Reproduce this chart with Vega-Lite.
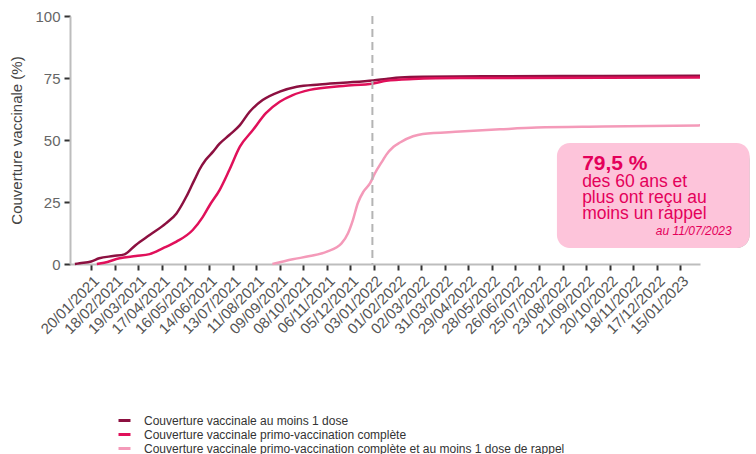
{
  "$schema": "https://vega.github.io/schema/vega-lite/v6.json",
  "width": 630,
  "height": 248,
  "autosize": {"type": "none"},
  "padding": {"left": 70, "top": 16, "right": 56, "bottom": 190},
  "background": "white",
  "config": {
    "font": "Liberation Sans",
    "view": {"stroke": null},
    "axisX": {"labelOverlap": false, "labelFlush": false, "labelBound": false, "labelAngle": -45, "labelFontSize": 15, "labelColor": "#555555", "labelPadding": 3, "tickSize": 6, "tickWidth": 2, "tickColor": "#333333", "domainColor": "#bdbdbd", "domainWidth": 2, "grid": false, "tickCount": 40, "labelExpr": "utcFormat(datum.value, '%d/%m/%Y')"},
    "axisY": {"labelFontSize": 15, "labelColor": "#666666", "labelPadding": 4, "tickSize": 6, "tickWidth": 2, "tickColor": "#333333", "domainColor": "#bdbdbd", "domainWidth": 2, "grid": false, "titleFontSize": 15, "titleFontWeight": "normal", "titleColor": "#444444", "titlePadding": 10}
  },
  "datasets": {
    "cv": [
      {"date": "2020-12-31", "serie": "Couverture vaccinale au moins 1 dose", "value": 0},
      {"date": "2021-01-06", "serie": "Couverture vaccinale au moins 1 dose", "value": 0.3},
      {"date": "2021-01-20", "serie": "Couverture vaccinale au moins 1 dose", "value": 1.0},
      {"date": "2021-01-30", "serie": "Couverture vaccinale au moins 1 dose", "value": 2.3},
      {"date": "2021-02-16", "serie": "Couverture vaccinale au moins 1 dose", "value": 3.2},
      {"date": "2021-03-02", "serie": "Couverture vaccinale au moins 1 dose", "value": 3.9},
      {"date": "2021-03-16", "serie": "Couverture vaccinale au moins 1 dose", "value": 7.7},
      {"date": "2021-04-02", "serie": "Couverture vaccinale au moins 1 dose", "value": 11.7},
      {"date": "2021-04-22", "serie": "Couverture vaccinale au moins 1 dose", "value": 16.4},
      {"date": "2021-05-05", "serie": "Couverture vaccinale au moins 1 dose", "value": 20.4},
      {"date": "2021-05-17", "serie": "Couverture vaccinale au moins 1 dose", "value": 27.1},
      {"date": "2021-05-25", "serie": "Couverture vaccinale au moins 1 dose", "value": 32.5},
      {"date": "2021-05-29", "serie": "Couverture vaccinale au moins 1 dose", "value": 35.2},
      {"date": "2021-06-02", "serie": "Couverture vaccinale au moins 1 dose", "value": 37.9},
      {"date": "2021-06-10", "serie": "Couverture vaccinale au moins 1 dose", "value": 42.0},
      {"date": "2021-06-19", "serie": "Couverture vaccinale au moins 1 dose", "value": 45.3},
      {"date": "2021-06-27", "serie": "Couverture vaccinale au moins 1 dose", "value": 48.5},
      {"date": "2021-07-09", "serie": "Couverture vaccinale au moins 1 dose", "value": 52.0},
      {"date": "2021-07-22", "serie": "Couverture vaccinale au moins 1 dose", "value": 56.0},
      {"date": "2021-08-03", "serie": "Couverture vaccinale au moins 1 dose", "value": 61.4},
      {"date": "2021-08-19", "serie": "Couverture vaccinale au moins 1 dose", "value": 66.1},
      {"date": "2021-09-09", "serie": "Couverture vaccinale au moins 1 dose", "value": 69.5},
      {"date": "2021-09-30", "serie": "Couverture vaccinale au moins 1 dose", "value": 71.5},
      {"date": "2021-10-28", "serie": "Couverture vaccinale au moins 1 dose", "value": 72.4},
      {"date": "2021-11-26", "serie": "Couverture vaccinale au moins 1 dose", "value": 73.1},
      {"date": "2022-01-02", "serie": "Couverture vaccinale au moins 1 dose", "value": 74.0},
      {"date": "2022-01-18", "serie": "Couverture vaccinale au moins 1 dose", "value": 74.6},
      {"date": "2022-02-04", "serie": "Couverture vaccinale au moins 1 dose", "value": 75.2},
      {"date": "2022-03-04", "serie": "Couverture vaccinale au moins 1 dose", "value": 75.5},
      {"date": "2022-06-07", "serie": "Couverture vaccinale au moins 1 dose", "value": 75.7},
      {"date": "2022-10-12", "serie": "Couverture vaccinale au moins 1 dose", "value": 75.8},
      {"date": "2023-02-08", "serie": "Couverture vaccinale au moins 1 dose", "value": 75.9},
      {"date": "2021-01-27", "serie": "Couverture vaccinale primo-vaccination complète", "value": 0},
      {"date": "2021-02-05", "serie": "Couverture vaccinale primo-vaccination complète", "value": 0.5},
      {"date": "2021-02-24", "serie": "Couverture vaccinale primo-vaccination complète", "value": 2.3},
      {"date": "2021-03-16", "serie": "Couverture vaccinale primo-vaccination complète", "value": 3.2},
      {"date": "2021-04-02", "serie": "Couverture vaccinale primo-vaccination complète", "value": 4.0},
      {"date": "2021-04-18", "serie": "Couverture vaccinale primo-vaccination complète", "value": 6.3},
      {"date": "2021-05-05", "serie": "Couverture vaccinale primo-vaccination complète", "value": 9.0},
      {"date": "2021-05-25", "serie": "Couverture vaccinale primo-vaccination complète", "value": 13.7},
      {"date": "2021-06-06", "serie": "Couverture vaccinale primo-vaccination complète", "value": 18.8},
      {"date": "2021-06-15", "serie": "Couverture vaccinale primo-vaccination complète", "value": 23.8},
      {"date": "2021-06-27", "serie": "Couverture vaccinale primo-vaccination complète", "value": 29.8},
      {"date": "2021-07-09", "serie": "Couverture vaccinale primo-vaccination complète", "value": 37.9},
      {"date": "2021-07-22", "serie": "Couverture vaccinale primo-vaccination complète", "value": 47.3},
      {"date": "2021-08-07", "serie": "Couverture vaccinale primo-vaccination complète", "value": 54.0},
      {"date": "2021-08-23", "serie": "Couverture vaccinale primo-vaccination complète", "value": 60.8},
      {"date": "2021-09-09", "serie": "Couverture vaccinale primo-vaccination complète", "value": 65.4},
      {"date": "2021-09-25", "serie": "Couverture vaccinale primo-vaccination complète", "value": 68.1},
      {"date": "2021-10-16", "serie": "Couverture vaccinale primo-vaccination complète", "value": 70.2},
      {"date": "2021-11-26", "serie": "Couverture vaccinale primo-vaccination complète", "value": 71.8},
      {"date": "2022-01-02", "serie": "Couverture vaccinale primo-vaccination complète", "value": 72.8},
      {"date": "2022-01-18", "serie": "Couverture vaccinale primo-vaccination complète", "value": 73.9},
      {"date": "2022-02-20", "serie": "Couverture vaccinale primo-vaccination complète", "value": 74.6},
      {"date": "2022-04-19", "serie": "Couverture vaccinale primo-vaccination complète", "value": 75.0},
      {"date": "2022-10-12", "serie": "Couverture vaccinale primo-vaccination complète", "value": 75.1},
      {"date": "2023-02-08", "serie": "Couverture vaccinale primo-vaccination complète", "value": 75.2},
      {"date": "2021-08-31", "serie": "Couverture vaccinale primo-vaccination complète et au moins 1 dose de rappel", "value": 0},
      {"date": "2021-09-25", "serie": "Couverture vaccinale primo-vaccination complète et au moins 1 dose de rappel", "value": 1.9},
      {"date": "2021-10-16", "serie": "Couverture vaccinale primo-vaccination complète et au moins 1 dose de rappel", "value": 3.2},
      {"date": "2021-11-06", "serie": "Couverture vaccinale primo-vaccination complète et au moins 1 dose de rappel", "value": 5.0},
      {"date": "2021-11-24", "serie": "Couverture vaccinale primo-vaccination complète et au moins 1 dose de rappel", "value": 8.3},
      {"date": "2021-12-02", "serie": "Couverture vaccinale primo-vaccination complète et au moins 1 dose de rappel", "value": 12.4},
      {"date": "2021-12-08", "serie": "Couverture vaccinale primo-vaccination complète et au moins 1 dose de rappel", "value": 17.7},
      {"date": "2021-12-14", "serie": "Couverture vaccinale primo-vaccination complète et au moins 1 dose de rappel", "value": 24.5},
      {"date": "2021-12-21", "serie": "Couverture vaccinale primo-vaccination complète et au moins 1 dose de rappel", "value": 29.2},
      {"date": "2021-12-29", "serie": "Couverture vaccinale primo-vaccination complète et au moins 1 dose de rappel", "value": 32.5},
      {"date": "2022-01-04", "serie": "Couverture vaccinale primo-vaccination complète et au moins 1 dose de rappel", "value": 36.5},
      {"date": "2022-01-14", "serie": "Couverture vaccinale primo-vaccination complète et au moins 1 dose de rappel", "value": 41.9},
      {"date": "2022-01-18", "serie": "Couverture vaccinale primo-vaccination complète et au moins 1 dose de rappel", "value": 44.0},
      {"date": "2022-01-27", "serie": "Couverture vaccinale primo-vaccination complète et au moins 1 dose de rappel", "value": 47.3},
      {"date": "2022-02-04", "serie": "Couverture vaccinale primo-vaccination complète et au moins 1 dose de rappel", "value": 49.0},
      {"date": "2022-02-20", "serie": "Couverture vaccinale primo-vaccination complète et au moins 1 dose de rappel", "value": 51.5},
      {"date": "2022-03-04", "serie": "Couverture vaccinale primo-vaccination complète et au moins 1 dose de rappel", "value": 52.4},
      {"date": "2022-04-19", "serie": "Couverture vaccinale primo-vaccination complète et au moins 1 dose de rappel", "value": 53.4},
      {"date": "2022-06-07", "serie": "Couverture vaccinale primo-vaccination complète et au moins 1 dose de rappel", "value": 54.3},
      {"date": "2022-07-22", "serie": "Couverture vaccinale primo-vaccination complète et au moins 1 dose de rappel", "value": 55.0},
      {"date": "2022-10-12", "serie": "Couverture vaccinale primo-vaccination complète et au moins 1 dose de rappel", "value": 55.4},
      {"date": "2023-02-08", "serie": "Couverture vaccinale primo-vaccination complète et au moins 1 dose de rappel", "value": 55.9}
    ]
  },
  "layer": [
    {
      "data": {"name": "cv"},
      "mark": {"type": "line", "strokeWidth": 2.5, "interpolate": "monotone"},
      "encoding": {
        "x": {
          "field": "date",
          "type": "temporal",
          "title": null,
          "scale": {"type": "utc", "domain": [{"year": 2020, "month": 12, "date": 25, "utc": true}, {"year": 2023, "month": 2, "date": 8, "utc": true}]},
          "axis": {
            "values": [
              {"year": 2021, "month": 1, "date": 20, "utc": true},
              {"year": 2021, "month": 2, "date": 18, "utc": true},
              {"year": 2021, "month": 3, "date": 19, "utc": true},
              {"year": 2021, "month": 4, "date": 17, "utc": true},
              {"year": 2021, "month": 5, "date": 16, "utc": true},
              {"year": 2021, "month": 6, "date": 14, "utc": true},
              {"year": 2021, "month": 7, "date": 13, "utc": true},
              {"year": 2021, "month": 8, "date": 11, "utc": true},
              {"year": 2021, "month": 9, "date": 9, "utc": true},
              {"year": 2021, "month": 10, "date": 8, "utc": true},
              {"year": 2021, "month": 11, "date": 6, "utc": true},
              {"year": 2021, "month": 12, "date": 5, "utc": true},
              {"year": 2022, "month": 1, "date": 3, "utc": true},
              {"year": 2022, "month": 2, "date": 1, "utc": true},
              {"year": 2022, "month": 3, "date": 2, "utc": true},
              {"year": 2022, "month": 3, "date": 31, "utc": true},
              {"year": 2022, "month": 4, "date": 29, "utc": true},
              {"year": 2022, "month": 5, "date": 28, "utc": true},
              {"year": 2022, "month": 6, "date": 26, "utc": true},
              {"year": 2022, "month": 7, "date": 25, "utc": true},
              {"year": 2022, "month": 8, "date": 23, "utc": true},
              {"year": 2022, "month": 9, "date": 21, "utc": true},
              {"year": 2022, "month": 10, "date": 20, "utc": true},
              {"year": 2022, "month": 11, "date": 18, "utc": true},
              {"year": 2022, "month": 12, "date": 17, "utc": true},
              {"year": 2023, "month": 1, "date": 15, "utc": true}
            ],
            "tickCount": 40,
            "labelExpr": "utcFormat(datum.value, '%d/%m/%Y')",
            "labelOverlap": false
          }
        },
        "y": {
          "field": "value",
          "type": "quantitative",
          "scale": {"domain": [0, 100], "nice": false},
          "title": "Couverture vaccinale (%)",
          "axis": {"values": [0, 25, 50, 75, 100]}
        },
        "color": {
          "field": "serie",
          "type": "nominal",
          "scale": {
            "domain": ["Couverture vaccinale au moins 1 dose", "Couverture vaccinale primo-vaccination complète", "Couverture vaccinale primo-vaccination complète et au moins 1 dose de rappel"],
            "range": ["#8c1040", "#e0105a", "#f49ab9"]
          },
          "legend": {
            "title": null,
            "orient": "none",
            "legendX": 47,
            "legendY": 397,
            "padding": 0,
            "symbolType": "stroke",
            "symbolSize": 144,
            "symbolStrokeWidth": 3,
            "labelFontSize": 12,
            "labelColor": "#333333",
            "labelOffset": 12,
            "rowPadding": -2,
            "labelLimit": 600
          }
        }
      }
    },
    {
      "data": {"values": [{}]},
      "mark": {"type": "rule", "color": "#b4b4b4", "strokeWidth": 2, "strokeDash": [8, 5]},
      "encoding": {
        "x": {"datum": {"year": 2022, "month": 1, "date": 1, "utc": true}, "type": "temporal"}
      }
    },
    {
      "data": {"values": [{}]},
      "mark": {"type": "rect", "color": "#8a8a8a", "opacity": 0.35, "cornerRadius": 13, "xOffset": 5, "yOffset": 5},
      "encoding": {
        "x": {"datum": {"year": 2022, "month": 8, "date": 16, "utc": true}, "type": "temporal"},
        "x2": {"datum": {"year": 2023, "month": 4, "date": 10, "utc": true}},
        "y": {"datum": 48.8, "type": "quantitative"},
        "y2": {"datum": 6.45}
      }
    },
    {
      "data": {"values": [{}]},
      "mark": {"type": "rect", "color": "#6e6e6e", "opacity": 0.35, "cornerRadius": 13, "xOffset": 2.5, "yOffset": 2.5},
      "encoding": {
        "x": {"datum": {"year": 2022, "month": 8, "date": 16, "utc": true}, "type": "temporal"},
        "x2": {"datum": {"year": 2023, "month": 4, "date": 10, "utc": true}},
        "y": {"datum": 48.8, "type": "quantitative"},
        "y2": {"datum": 6.45}
      }
    },
    {
      "data": {"values": [{}]},
      "mark": {"type": "rect", "color": "#fdc4da", "opacity": 1, "cornerRadius": 13},
      "encoding": {
        "x": {"datum": {"year": 2022, "month": 8, "date": 16, "utc": true}, "type": "temporal"},
        "x2": {"datum": {"year": 2023, "month": 4, "date": 10, "utc": true}},
        "y": {"datum": 48.8, "type": "quantitative"},
        "y2": {"datum": 6.45}
      }
    },
    {
      "data": {"values": [{}]},
      "mark": {"type": "text", "text": "79,5 %", "align": "left", "baseline": "alphabetic", "fontSize": 21, "fontWeight": "bold", "color": "#e4005a"},
      "encoding": {
        "x": {"datum": {"year": 2022, "month": 9, "date": 16, "utc": true}, "type": "temporal"},
        "y": {"datum": 37.9, "type": "quantitative"}
      }
    },
    {
      "data": {"values": [{}]},
      "mark": {"type": "text", "text": ["des 60 ans et", "plus ont reçu au", "moins un rappel"], "align": "left", "baseline": "alphabetic", "fontSize": 17.5, "lineHeight": 16, "color": "#e4005a"},
      "encoding": {
        "x": {"datum": {"year": 2022, "month": 9, "date": 16, "utc": true}, "type": "temporal"},
        "y": {"datum": 31.2, "type": "quantitative"}
      }
    },
    {
      "data": {"values": [{}]},
      "mark": {"type": "text", "text": "au 11/07/2023", "align": "right", "baseline": "alphabetic", "fontSize": 12, "fontStyle": "italic", "color": "#e4005a"},
      "encoding": {
        "x": {"datum": {"year": 2023, "month": 3, "date": 19, "utc": true}, "type": "temporal"},
        "y": {"datum": 11.7, "type": "quantitative"}
      }
    }
  ]
}
